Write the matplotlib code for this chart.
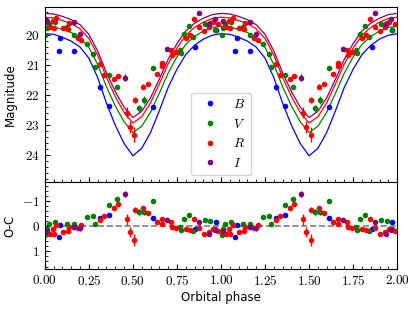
import numpy as np
import matplotlib
matplotlib.use("Agg")
import matplotlib.pyplot as plt
from matplotlib.ticker import MultipleLocator, AutoMinorLocator, FuncFormatter

plt.rcParams["mathtext.fontset"] = "cm"
plt.rcParams["font.size"] = 8.5

# model light curves, one orbital cycle
model_phase = [0.00, 0.05, 0.10, 0.15, 0.20, 0.25, 0.30, 0.35, 0.40, 0.45, 0.50,
               0.55, 0.60, 0.65, 0.70, 0.75, 0.80, 0.85, 0.90, 0.95, 1.00]
model_B = [19.94, 19.96, 20.06, 20.19, 20.39, 20.76, 21.41, 22.27, 23.01, 23.62, 24.03,
           23.78, 23.25, 22.52, 21.74, 21.13, 20.64, 20.33, 20.12, 19.99, 19.94]
model_V = [19.69, 19.71, 19.80, 19.90, 20.08, 20.40, 20.97, 21.72, 22.36, 22.89, 23.25,
           23.04, 22.57, 21.93, 21.26, 20.72, 20.30, 20.03, 19.85, 19.73, 19.69]
model_R = [19.39, 19.41, 19.50, 19.60, 19.78, 20.10, 20.66, 21.41, 22.05, 22.58, 22.93,
           22.72, 22.26, 21.62, 20.95, 20.42, 19.99, 19.73, 19.55, 19.43, 19.39]
model_I = [19.26, 19.28, 19.36, 19.47, 19.64, 19.96, 20.52, 21.25, 21.88, 22.40, 22.75,
           22.54, 22.09, 21.46, 20.80, 20.27, 19.85, 19.59, 19.42, 19.30, 19.26]

# observations (phase, magnitude, error, O-C)
B_phase = [0.078, 0.089, 0.167, 0.313, 0.366, 0.614, 0.855, 0.970]
B_mag = [20.52, 20.08, 20.52, 21.74, 22.36, 22.39, 20.40, 19.81]
B_err = [0.04, 0.04, 0.04, 0.08, 0.06, 0.06, 0.04, 0.04]
B_oc = [0.44, -0.04, 0.04, -0.31, -0.42, -0.31, 0.10, -0.16]

V_phase = [0.003, 0.012, 0.023, 0.057, 0.127, 0.165, 0.240, 0.275, 0.284, 0.362,
           0.411, 0.536, 0.562, 0.614, 0.765, 0.772, 0.790, 0.818, 0.843, 0.909,
           0.940, 0.968]
V_mag = [20.00, 19.75, 19.62, 19.55, 19.72, 19.98, 20.30, 20.63, 21.04, 21.32,
         21.73, 22.44, 22.16, 21.09, 20.48, 20.60, 19.96, 19.67, 20.06, 19.62,
         19.58, 19.83]
V_err = [0.03, 0.03, 0.03, 0.03, 0.03, 0.03, 0.04, 0.06, 0.04, 0.05,
         0.05, 0.12, 0.12, 0.05, 0.04, 0.04, 0.03, 0.03, 0.03, 0.03,
         0.03, 0.03]
V_oc = [0.37, 0.10, -0.07, -0.16, -0.10, -0.10, -0.37, -0.39, -0.07, -0.82,
        -1.07, -0.56, -0.56, -1.00, 0.03, 0.14, -0.29, -0.42, 0.18, -0.24,
        -0.20, 0.10]

R_phase = [0.028, 0.047, 0.053, 0.066, 0.104, 0.133, 0.138, 0.186, 0.208, 0.313,
           0.337, 0.392, 0.417, 0.464, 0.483, 0.509, 0.513, 0.559, 0.587, 0.638,
           0.663, 0.667, 0.714, 0.720, 0.745, 0.800, 0.823, 0.847, 0.877, 0.905,
           0.930, 0.953, 0.985]
R_mag = [19.72, 19.50, 19.74, 19.42, 19.74, 19.77, 19.59, 20.10, 20.15, 20.94,
         21.34, 21.47, 21.36, 22.58, 23.07, 23.33, 22.16, 21.72, 21.63, 21.30,
         20.91, 21.03, 20.48, 20.64, 20.54, 20.09, 20.00, 19.45, 19.72, 19.85,
         19.73, 19.55, 19.60]
R_err = [0.03, 0.03, 0.03, 0.03, 0.03, 0.03, 0.03, 0.03, 0.03, 0.04,
         0.04, 0.04, 0.04, 0.20, 0.20, 0.25, 0.10, 0.08, 0.05, 0.04,
         0.04, 0.04, 0.03, 0.03, 0.03, 0.03, 0.03, 0.03, 0.03, 0.03,
         0.03, 0.03, 0.03]
R_oc = [0.33, 0.10, 0.33, -0.03, 0.24, 0.21, 0.03, 0.08, -0.03, -0.24,
        -0.39, -0.71, -0.86, -0.26, 0.22, 0.55, -0.65, -0.71, -0.52, -0.16,
        -0.26, -0.09, -0.16, 0.05, 0.07, 0.10, 0.14, -0.29, 0.08, 0.30,
        0.24, 0.13, 0.20]

I_phase = [0.012, 0.165, 0.199, 0.456, 0.691, 0.877, 0.934, 0.966]
I_mag = [19.50, 19.55, 19.94, 21.41, 20.44, 19.25, 19.62, 19.45]
I_err = [0.04, 0.04, 0.10, 0.12, 0.05, 0.04, 0.04, 0.04]
I_oc = [0.21, 0.04, 0.08, -1.27, -0.24, -0.17, 0.30, 0.17]

bands = [
    ("$B$", "blue", model_B, B_phase, B_mag, B_err, B_oc),
    ("$V$", "green", model_V, V_phase, V_mag, V_err, V_oc),
    ("$R$", "red", model_R, R_phase, R_mag, R_err, R_oc),
    ("$I$", "purple", model_I, I_phase, I_mag, I_err, I_oc),
]


def two_cycles(ph):
    ph = np.asarray(ph)
    return np.concatenate([ph, ph + 1])


fig = plt.figure(figsize=(4.15, 3.10), dpi=100)
gs = fig.add_gridspec(2, 1, height_ratios=[2, 1], hspace=0,
                      left=0.108, right=0.957, top=0.977, bottom=0.132)
ax1 = fig.add_subplot(gs[0])
ax2 = fig.add_subplot(gs[1], sharex=ax1)

handles = []
for label, color, model, ph, mag, err, oc in bands:
    mph = two_cycles(model_phase)
    ax1.plot(mph, np.tile(model, 2), color=color, lw=0.9)
    eb = ax1.errorbar(two_cycles(ph), np.tile(mag, 2), yerr=np.tile(err, 2),
                      fmt="o", ms=3, color=color, elinewidth=1, label=label)
    handles.append(eb[0])
    ax2.errorbar(two_cycles(ph), np.tile(oc, 2), yerr=np.tile(err, 2),
                 fmt="o", ms=3, color=color, elinewidth=1)

ax2.axhline(0, color="gray", ls="--", lw=1.2, zorder=0)

ax1.set_xlim(0, 2)
ax1.set_ylim(24.9, 19.05)
ax2.set_ylim(1.7, -1.75)

ax1.yaxis.set_major_locator(MultipleLocator(1))
ax1.yaxis.set_minor_locator(AutoMinorLocator(5))
ax2.yaxis.set_major_locator(MultipleLocator(1))
ax2.yaxis.set_minor_locator(AutoMinorLocator(5))
ax2.xaxis.set_major_locator(MultipleLocator(0.25))
ax2.xaxis.set_minor_locator(AutoMinorLocator(5))

ax1.yaxis.set_major_formatter(FuncFormatter(lambda v, p: f"${v:g}$"))
ax2.yaxis.set_major_formatter(FuncFormatter(lambda v, p: f"${v:g}$"))
ax2.xaxis.set_major_formatter(FuncFormatter(lambda v, p: f"${v:.2f}$"))
ax1.tick_params(labelbottom=False)
for ax in (ax1, ax2):
    ax.tick_params(which="both", direction="in", labelsize=9.5)
    ax.tick_params(which="major", length=3.5)
    ax.tick_params(which="minor", length=2)

ax1.set_ylabel("Magnitude")
ax2.set_ylabel("O-C")
ax2.set_xlabel("Orbital phase", labelpad=2)
fig.align_ylabels([ax1, ax2])

ax1.legend(handles=handles, labels=[b[0] for b in bands], loc="lower center",
           fontsize=9.5, numpoints=1)

fig.savefig("out.png", dpi=100)
